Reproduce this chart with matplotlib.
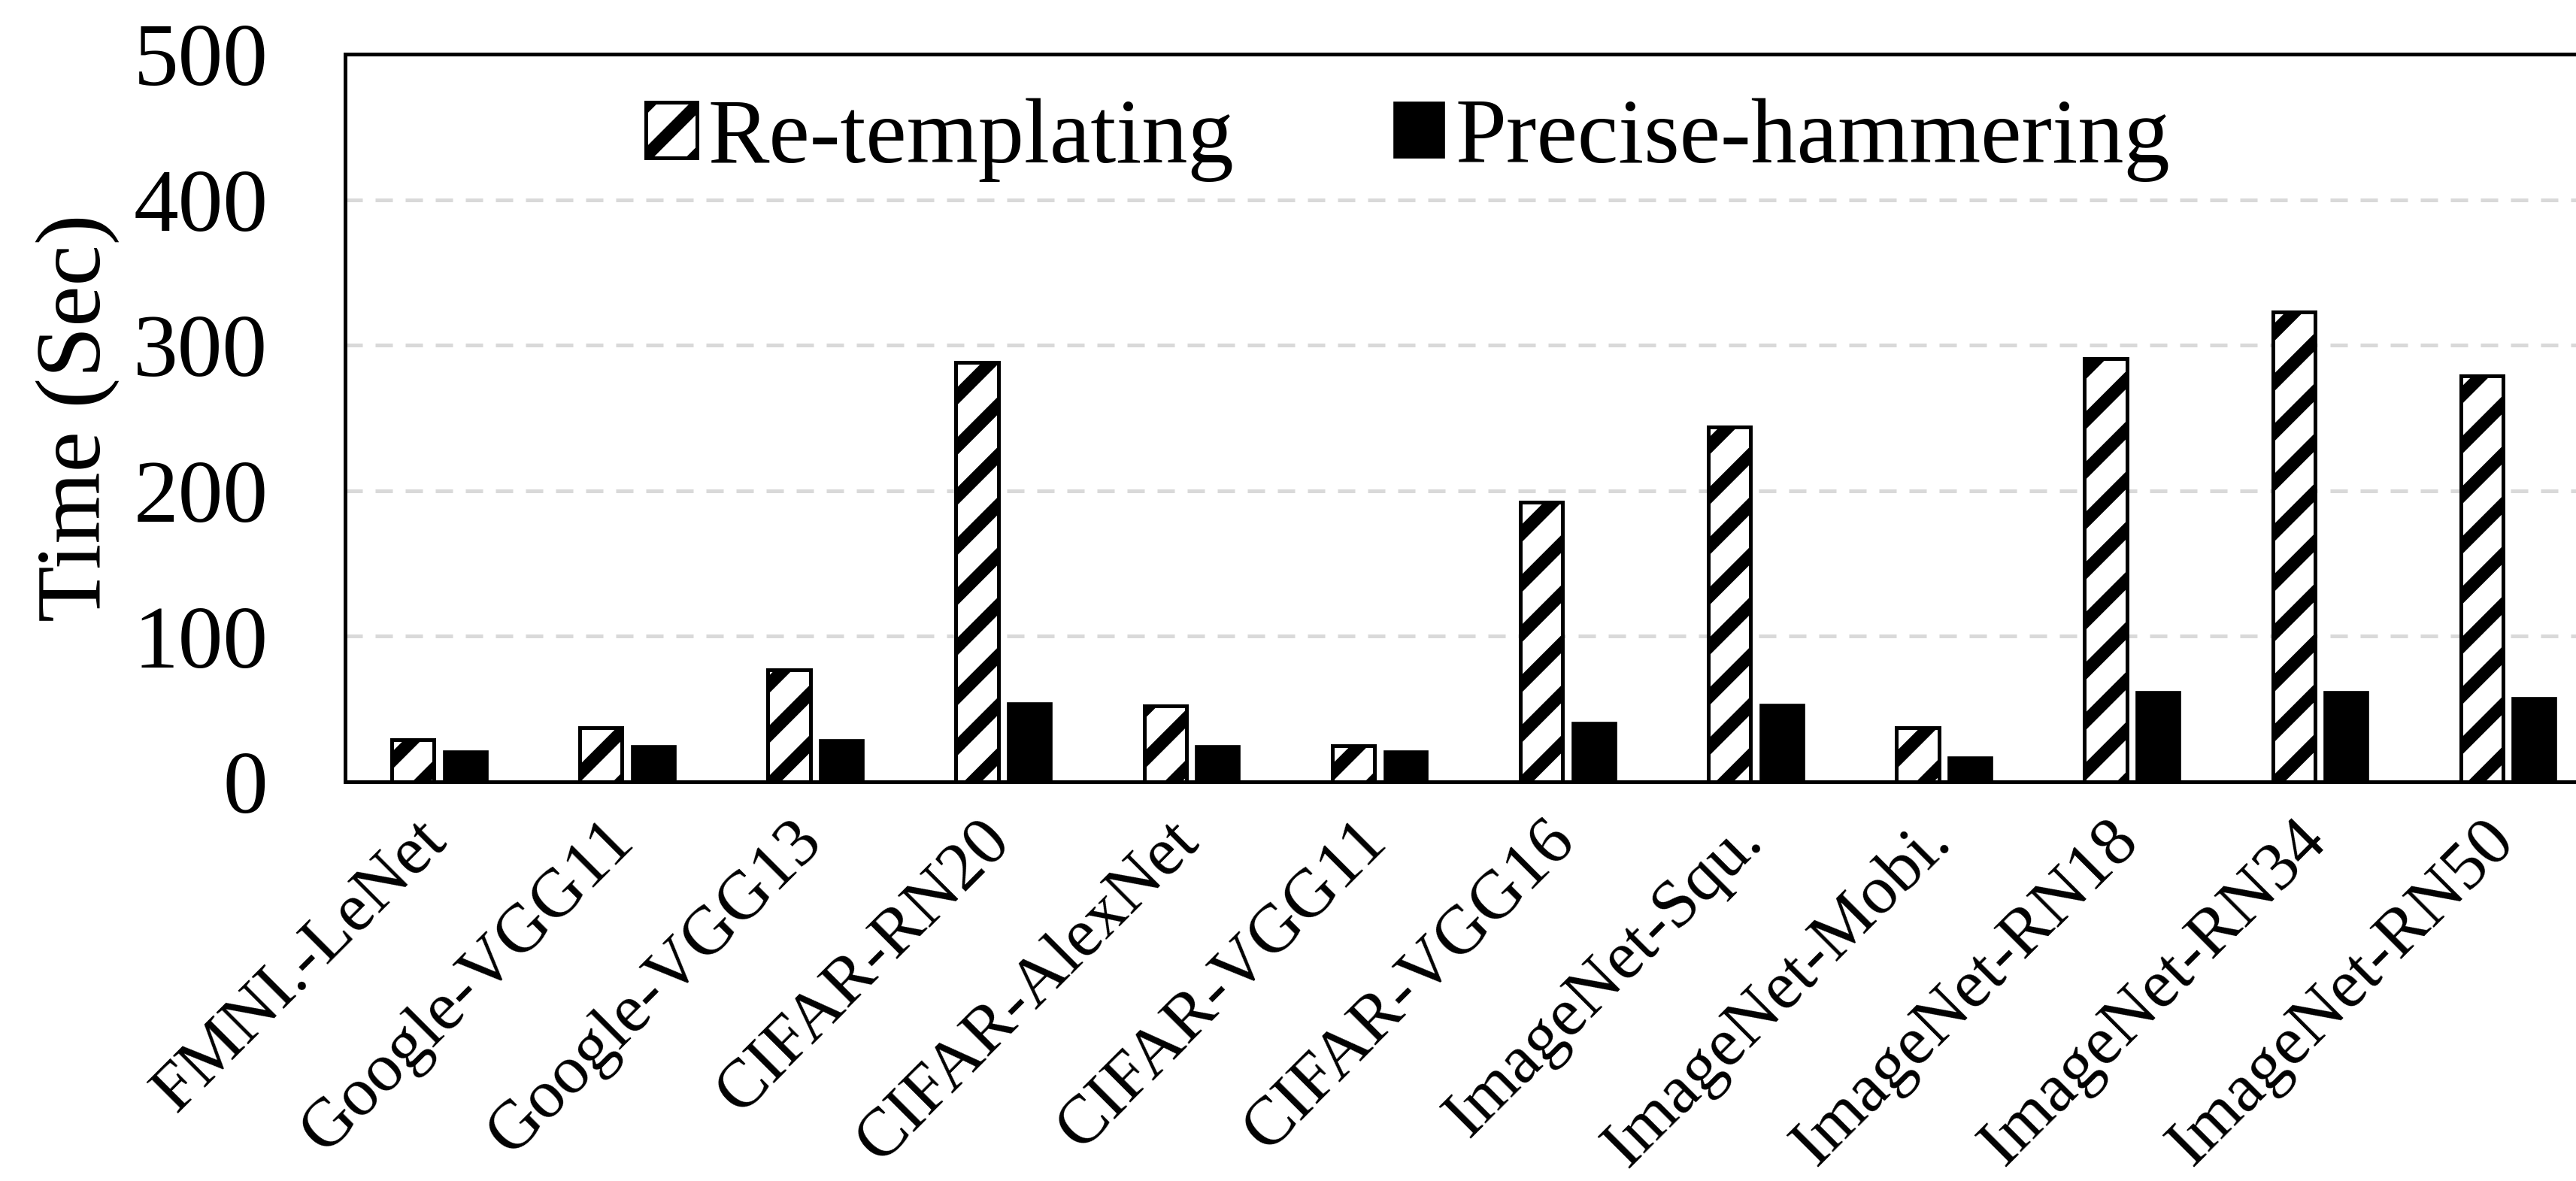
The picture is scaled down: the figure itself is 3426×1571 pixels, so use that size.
import matplotlib
matplotlib.use("Agg")
import matplotlib.pyplot as plt
import matplotlib.transforms as mtransforms
import numpy as np

categories = ["FMNI.-LeNet", "Google-VGG11", "Google-VGG13", "CIFAR-RN20",
              "CIFAR-AlexNet", "CIFAR-VGG11", "CIFAR-VGG16", "ImageNet-Squ.",
              "ImageNet-Mobi.", "ImageNet-RN18", "ImageNet-RN34", "ImageNet-RN50"]
retemplating = [29, 37, 77, 288, 52, 25, 192, 244, 37, 291, 323, 279]
precise_hammering = [21, 25, 29, 54, 25, 21, 41, 53, 17, 62, 62, 58]
yticks = [0, 100, 200, 300, 400, 500]

DPI = 400
plt.rcParams['font.family'] = ['Liberation Serif', 'DejaVu Serif']
plt.rcParams['hatch.linewidth'] = 3.0
plt.rcParams['hatch.color'] = 'black'

fig = plt.figure(figsize=(3426 / DPI, 1571 / DPI), dpi=DPI)
ax = fig.add_axes([0.134, 0.338, 1.0102 - 0.134, 0.9542 - 0.338])

x = np.arange(len(categories))
w = 0.225
off = 0.14
ax.bar(x - off, retemplating, width=w, facecolor='white', edgecolor='black',
       linewidth=0.9, hatch='//', label='Re-templating', zorder=3)
ax.bar(x + off, precise_hammering, width=w + 0.01, facecolor='black', edgecolor='black',
       linewidth=0.3, label='Precise-hammering', zorder=3)

ax.set_xlim(-0.5, len(categories) - 0.5)
ax.set_ylim(0, 500)
ax.set_yticks(yticks)
ax.set_yticklabels([str(v) for v in yticks], fontsize=21.5)
ax.tick_params(axis='y', length=0, pad=18.5)
ax.tick_params(axis='x', length=0, pad=6.5)

ax.yaxis.grid(True, color='#D9D9D9', linewidth=0.9, linestyle=(0, (4.6, 3.4)), zorder=0)
ax.set_axisbelow(True)
for s in ax.spines.values():
    s.set_linewidth(0.9)
    s.set_color('black')

ax.set_xticks(x)
ax.set_xticklabels(categories, rotation=45, ha='right', va='top', fontsize=16.5)
offset = mtransforms.ScaledTranslation(25 / DPI, 0, fig.dpi_scale_trans)
for lab in ax.get_xticklabels():
    lab.set_transform(lab.get_transform() + offset)

ax.set_ylabel('Time (Sec)', fontsize=22)
ax.yaxis.set_label_coords(-0.10, 0.5)

leg = ax.legend(loc='center', bbox_to_anchor=(0.471, 0.882), ncol=2, frameon=False,
                fontsize=22, handlelength=0.55, handleheight=0.55,
                handletextpad=0.12, columnspacing=1.74, borderaxespad=0)

fig.savefig('out.png', dpi=DPI)
